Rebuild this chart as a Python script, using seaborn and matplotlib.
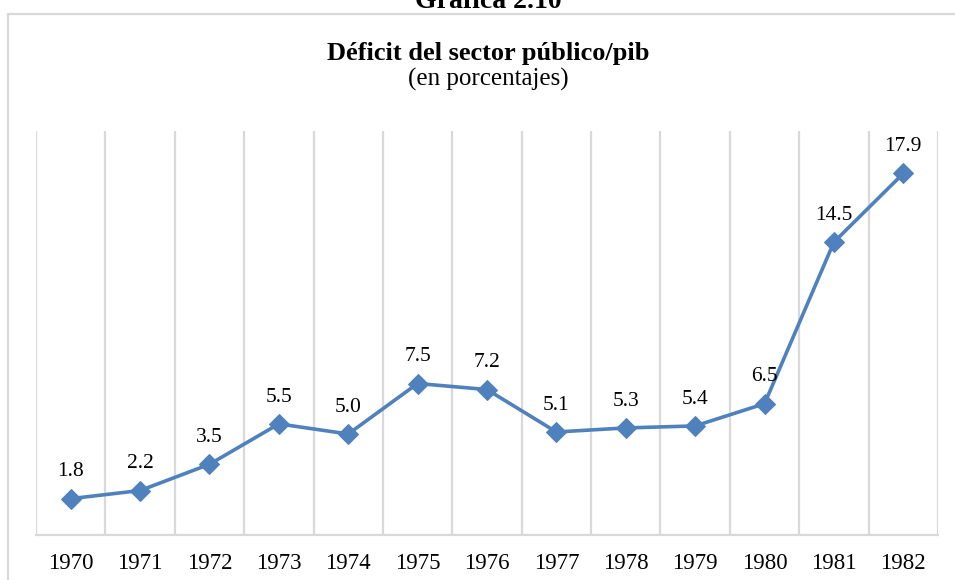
import matplotlib
matplotlib.use("Agg")
import matplotlib.pyplot as plt
import seaborn as sns
import numpy as np
import pandas as pd
from matplotlib.lines import Line2D

years = ["1970", "1971", "1972", "1973", "1974", "1975", "1976",
         "1977", "1978", "1979", "1980", "1981", "1982"]
deficit = [1.8, 2.2, 3.5, 5.5, 5.0, 7.5, 7.2, 5.1, 5.3, 5.4, 6.5, 14.5, 17.9]
chart_label = "Gráfica 2.10"
title = "Déficit del sector público/pib"
subtitle = "(en porcentajes)"

sns.set_theme(style="white")
plt.rcParams['font.family'] = ['Liberation Serif', 'DejaVu Serif']

W, H = 955, 580
fig = plt.figure(figsize=(W / 100, H / 100), dpi=100)
fig.patch.set_facecolor("white")
ax = fig.add_axes([36 / W, 45 / H, (938 - 36) / W, (535 - 131) / H])

df = pd.DataFrame({"pos": np.arange(len(years)), "year": years, "deficit": deficit})
line_color = "#4F81BD"
sns.lineplot(data=df, x="pos", y="deficit", ax=ax, color=line_color,
             linewidth=2.6, marker="D", markersize=10,
             markeredgecolor=line_color, markerfacecolor=line_color)

ax.set_xlim(-0.5, len(years) - 0.5)
ax.set_ylim(0, 20)
ax.set_xticks(df["pos"])
ax.set_xticklabels(years, fontsize=16.5, color="#000000")
ax.set_xticks(np.arange(-0.5, len(years), 1), minor=True)
ax.set_yticks([])
ax.tick_params(axis="x", which="both", length=0, pad=13)
ax.grid(False)
ax.grid(which="minor", axis="x", color="#D9D9D9", linewidth=1.6)
ax.set_xlabel("")
ax.set_ylabel("")
for s in ["left", "right", "top"]:
    ax.spines[s].set_visible(False)
ax.spines["bottom"].set_color("#D9D9D9")
ax.spines["bottom"].set_linewidth(1.6)

for x, v in zip(df["pos"], df["deficit"]):
    ax.annotate(f"{v:.1f}", (x, v), xytext=(0, 16), textcoords="offset points",
                ha="center", va="baseline", fontsize=15.5, color="#000000")

# outer frame (cropped chart border)
fig.add_artist(Line2D([8 / W, 1.0], [1 - 14 / H, 1 - 14 / H], transform=fig.transFigure,
                      color="#D9D9D9", linewidth=1.6))
fig.add_artist(Line2D([8 / W, 8 / W], [0.0, 1 - 14 / H], transform=fig.transFigure,
                      color="#D9D9D9", linewidth=1.6))

fig.text(488 / W, 1 - 8 / H, chart_label, ha="center", va="baseline",
         fontsize=20, fontweight="bold", color="#000000")
fig.text(488 / W, 1 - 60 / H, title, ha="center", va="baseline",
         fontsize=19, fontweight="bold", color="#000000")
fig.text(488 / W, 1 - 86 / H, subtitle, ha="center", va="baseline",
         fontsize=18, color="#000000")

fig.savefig("out.png", dpi=100, facecolor="white")
